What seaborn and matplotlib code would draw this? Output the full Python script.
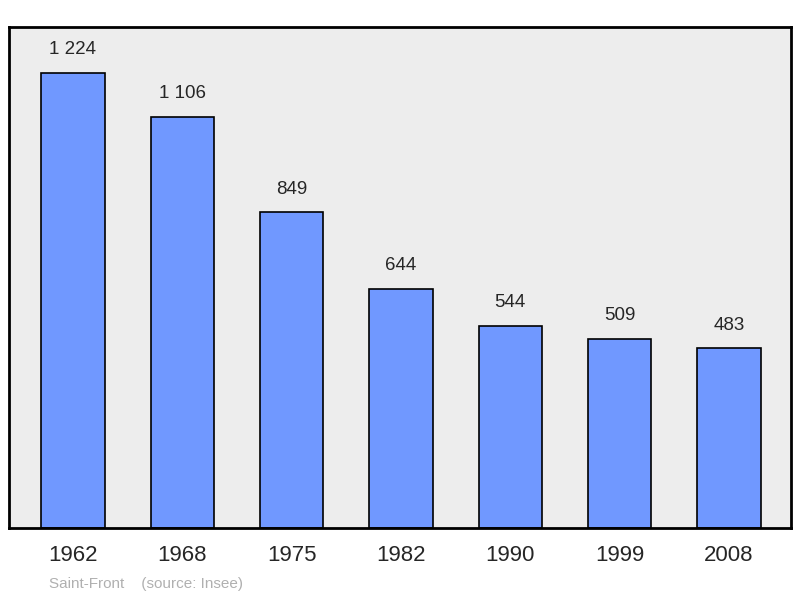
import matplotlib
matplotlib.use("Agg")
import matplotlib.pyplot as plt
import seaborn as sns
import pandas as pd

years = ["1962", "1968", "1975", "1982", "1990", "1999", "2008"]
population = [1224, 1106, 849, 644, 544, 509, 483]
labels = ["1 224", "1 106", "849", "644", "544", "509", "483"]

sns.set_style("white")
plt.rcParams['font.family'] = ['Liberation Sans', 'DejaVu Sans']

df = pd.DataFrame({'year': years, 'pop': population})

fig = plt.figure(figsize=(8, 5.98), dpi=100)
ax = fig.add_axes([9 / 800, 70 / 598, 782 / 800, 501 / 598])
ax.set_facecolor('#ededed')

sns.barplot(data=df, x='year', y='pop', color='#7098ff', saturation=1,
            width=0.58, edgecolor='black', linewidth=1.2, ax=ax)

for i, (v, t) in enumerate(zip(population, labels)):
    ax.text(i, v + 40, t, ha='center', va='bottom', fontsize=13.5)

ax.set_xlim(-0.585, 6.567)
ax.set_ylim(0, 1348)
ax.set_yticks([])
ax.set_xlabel('')
ax.set_ylabel('')
ax.tick_params(axis='x', length=0, labelsize=16, pad=12)
for s in ax.spines.values():
    s.set_linewidth(2)
    s.set_color('black')

fig.text(49 / 800, 1 - 584 / 598, "Saint-Front    (source: Insee)",
         color='#b0b0b0', fontsize=11, va='center')

fig.savefig('out.png', dpi=100)
